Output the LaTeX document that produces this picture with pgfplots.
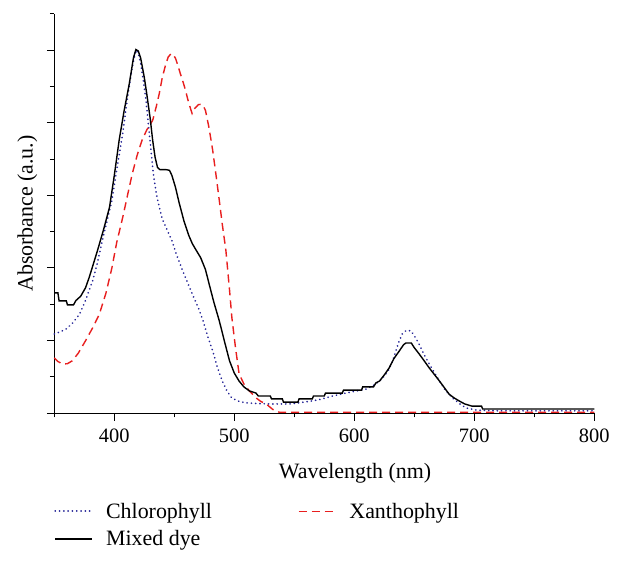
\documentclass[border=0pt]{standalone}
\usepackage{fontspec}
\setmainfont{Liberation Serif}
\usepackage{pgfplots}
\pgfplotsset{compat=1.18}
\usetikzlibrary{calc}
\definecolor{chl}{RGB}{35,35,150}
\definecolor{xan}{RGB}{232,30,30}
\begin{document}
\begin{tikzpicture}
\begin{axis}[
  scale only axis, width=540bp, height=399bp,
  xmin=350, xmax=800, ymin=0, ymax=11,
  axis x line*=bottom, axis y line*=left,
  axis line style={-, line width=1bp},
  clip=false,
  tick align=outside,
  major tick length=7.5bp, minor tick length=4.3bp,
  every tick/.style={black, line width=1bp},
  xtick={400,500,600,700,800},
  minor xtick={350,450,550,650,750},
  ytick={0,2,4,6,8,10}, minor ytick={1,3,5,7,9,11},
  yticklabels={},
  /pgf/number format/assume math mode=true,
  /pgf/number format/1000 sep={},
  ticklabel style={font=\fontsize{20.5}{24}\selectfont},
  xticklabel style={yshift=-5bp},
  xlabel={Wavelength (nm)},
  ylabel={Absorbance (a.u.)},
  label style={font=\fontsize{22}{26}\selectfont},
  xlabel style={at={(rel axis cs:0.557,0)}, anchor=center, yshift=-60bp},
  ylabel style={at={(rel axis cs:0,0.5)}, anchor=center, yshift=27bp},
  legend columns=2,
  legend style={at={(rel axis cs:0,0)}, anchor=north west, yshift=-90bp,
    draw=none, fill=none, inner sep=0pt, outer sep=0pt,
    font=\fontsize{22}{26}\selectfont,
    nodes={inner sep=0pt},
    row sep=11bp,
    /tikz/every odd column/.append style={column sep=13bp},
    /tikz/every even column/.append style={column sep=86bp}},
  legend cell align=left,
  legend image code/.code={\draw[#1] (0bp,0bp) -- (37bp,0bp);},
]
\coordinate (SW) at (rel axis cs:0,0);
\coordinate (NE) at (rel axis cs:1,1);
\addplot[chl, line width=1.8bp, line cap=round, dash pattern=on 0.1bp off 4.2bp] coordinates {
(350,2.18)(355,2.24)(360,2.32)(365,2.47)(371,2.72)(376,3.10)(382,3.65)(386,4.15)
(390,4.75)(394,5.30)(398,5.86)(402,6.70)(407,7.70)(411,8.70)(415,9.54)(418,10.0)
(420,9.92)(422,9.63)(424.5,9.10)(426.4,8.62)(429.2,7.70)(432.5,6.60)(435,6.05)(437.5,5.67)
(440,5.35)(443,5.12)(448,4.75)(452,4.35)(457,3.92)(461,3.60)(465,3.28)(470,2.90)
(474,2.54)(478,2.10)(482,1.71)(486,1.25)(490,0.88)(494,0.60)(498,0.41)(504,0.32)
(510,0.28)(520,0.26)(530,0.25)(546,0.25)(554,0.28)(570,0.36)(582,0.47)(596,0.57)
(610,0.66)(617,0.78)(623,0.94)(628,1.15)(632,1.44)(635,1.75)(637.5,1.99)(640,2.18)
(643,2.27)(647,2.27)(650,2.13)(654,1.90)(658,1.62)(662.5,1.35)(667,1.10)(671,0.88)
(676,0.62)(682,0.41)(688,0.25)(693,0.14)(702,0.08)(720,0.06)(800,0.06)
};
\addlegendentry{Chlorophyll}
\addplot[xan, line width=1.4bp, dash pattern=on 8bp off 5bp] coordinates {
(350,1.52)(353,1.42)(357,1.35)(361,1.36)(365,1.44)(370,1.65)(376,1.99)(382,2.35)
(387.5,2.72)(393,3.30)(398,4.00)(402,4.70)(407,5.39)(411,6.00)(415,6.60)(419,7.10)
(423,7.51)(427,7.80)(432,8.07)(435,8.45)(437.5,8.81)(440,9.25)(443,9.63)(445,9.82)
(447.5,9.91)(449,9.88)(451,9.78)(453,9.58)(455,9.36)(458,9.05)(460,8.81)(462,8.55)
(464.8,8.26)(466,8.36)(468,8.43)(470,8.50)(472,8.51)(474,8.48)(476,8.34)(479,7.85)
(482,7.24)(485,6.50)(487.5,5.86)(490,5.20)(493,4.48)(496,3.40)(498,2.62)(501,1.80)
(504,1.08)(508,0.80)(512.5,0.61)(518,0.42)(522,0.32)(526.5,0.25)(532,0.10)(537.5,0.02)
(800,0.02)
};
\addlegendentry{Xanthophyll}
\addplot[black, line width=1.4bp] coordinates {
(350,3.31)(353,3.31)(354,3.09)(360,3.09)(361,2.98)(366,2.98)(368,3.10)(372,3.22)
(376,3.45)(379,3.73)(382,4.05)(386,4.48)(391,5.05)(396,5.67)(400,6.55)(404,7.51)
(408,8.30)(412.5,9.08)(416,9.80)(418,10.02)(420,9.98)(422,9.78)(425,9.25)(427,8.81)
(430,8.10)(432,7.51)(434,7.05)(436,6.77)(438,6.71)(443,6.71)(446,6.69)(448,6.55)
(451,6.22)(454,5.80)(458,5.30)(462,4.90)(465,4.67)(468,4.50)(472,4.28)(476,3.95)
(479,3.56)(483,3.05)(487.5,2.54)(492,1.95)(496,1.44)(500,1.10)(504,0.88)(508,0.72)
(512.5,0.61)(518,0.55)(520,0.47)(530,0.47)(531,0.39)(540,0.39)(541,0.30)(553,0.30)
(554,0.39)(565,0.39)(566,0.47)(575,0.47)(576,0.55)(590,0.55)(591,0.63)(606,0.63)
(607,0.72)(616,0.72)(618,0.83)(621,0.88)(625,1.05)(629,1.24)(633,1.50)(637.5,1.71)
(641,1.88)(643,1.93)(647.5,1.93)(650,1.80)(654,1.63)(658,1.45)(662.5,1.24)(667,1.05)
(671,0.88)(675,0.70)(679,0.52)(683,0.42)(687.5,0.33)(692,0.25)(698,0.19)(706,0.19)
(707,0.11)(800,0.11)
};
\addlegendentry{Mixed dye}
\end{axis}
\pgfresetboundingbox
\path ($(SW)+(-54.3bp,-151bp)$) rectangle ($(NE)+(29.7bp,14bp)$);
\end{tikzpicture}
\end{document}
